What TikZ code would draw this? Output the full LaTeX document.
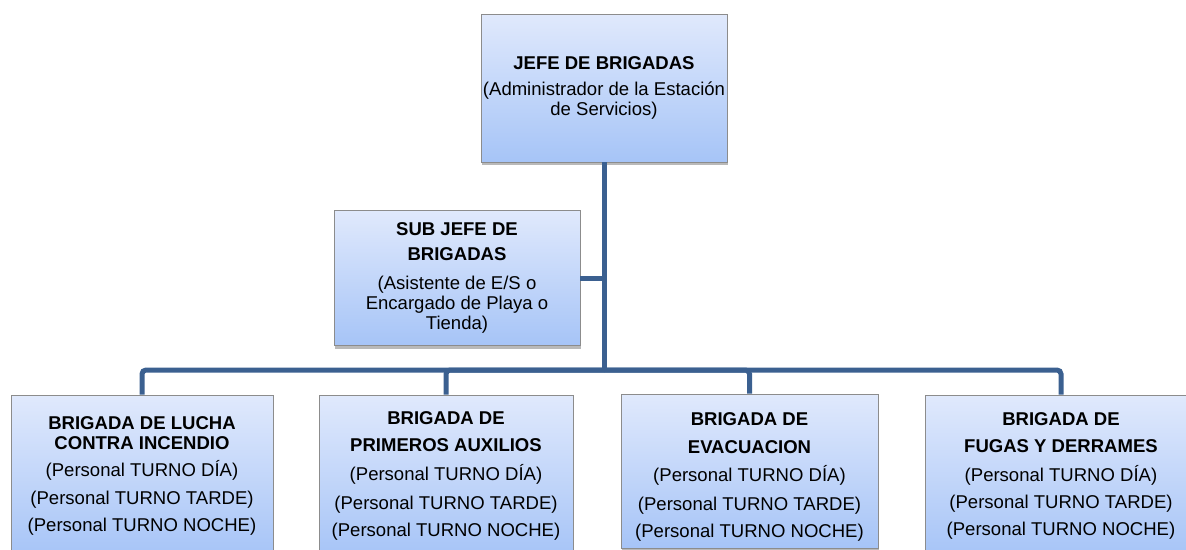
\documentclass[tikz,border=0pt]{standalone}
\usepackage{fontspec}
\setmainfont{Liberation Sans}
\usetikzlibrary{shadows}

\definecolor{boxtop}{RGB}{224,233,252}
\definecolor{boxbot}{RGB}{166,196,247}
\definecolor{boxline}{RGB}{140,140,140}
\definecolor{linkblue}{RGB}{59,96,144}

\begin{document}
\begin{tikzpicture}[
  x=0.75pt, y=-0.75pt,
  font=\fontsize{13.9}{15}\selectfont,
  unit/.style={draw=boxline,line width=0.6pt,top color=boxtop,bottom color=boxbot,align=center,inner xsep=1pt,
    drop shadow={shadow xshift=1pt,shadow yshift=-2.5pt,opacity=0.5,fill=black!55}},
  link/.style={draw=linkblue,line width=3.75pt,rounded corners=3pt}
]
\useasboundingbox (0,0) rectangle (1186,550);
\clip (0,0) rectangle (1186,550);

% jefes
\node[unit,minimum width=184.5pt,minimum height=111pt] (jefe) at (604,88)
  {\textbf{JEFE DE BRIGADAS}\\[5pt](Administrador de la Estación\\de Servicios)};
\node[unit,minimum width=184.5pt,minimum height=101.25pt] (sub) at (457,278)
  {\textbf{SUB JEFE DE}\\[3.75pt]\textbf{BRIGADAS}\\[6.75pt](Asistente de E/S o\\Encargado de Playa o\\Tienda)};

% brigadas
\node[unit,minimum width=196.5pt,minimum height=121.5pt] (lucha) at (142,476)
  {\textbf{BRIGADA DE LUCHA}\\\textbf{CONTRA INCENDIO}\\[5.5pt](Personal TURNO DÍA)\\[5.5pt](Personal TURNO TARDE)\\[5.5pt](Personal TURNO NOCHE)};
\node[unit,minimum width=190.5pt,minimum height=121.5pt] (auxilios) at (446,476)
  {\textbf{BRIGADA DE}\\[5.5pt]\textbf{PRIMEROS AUXILIOS}\\[6.5pt](Personal TURNO DÍA)\\[6.5pt](Personal TURNO TARDE)\\[5.5pt](Personal TURNO NOCHE)};
\node[unit,minimum width=192.75pt,minimum height=115.5pt] (evacua) at (749.5,471)
  {\rule{0pt}{19pt}\textbf{BRIGADA DE}\\[5.5pt]\textbf{EVACUACION}\\[6.5pt](Personal TURNO DÍA)\\[6.5pt](Personal TURNO TARDE)\\[5.5pt](Personal TURNO NOCHE)};
\node[unit,minimum width=204pt,minimum height=121.5pt] (fugas) at (1061,476)
  {\textbf{BRIGADA DE}\\[5.5pt]\textbf{FUGAS Y DERRAMES}\\[6.5pt](Personal TURNO DÍA)\\[5.5pt](Personal TURNO TARDE)\\[5.5pt](Personal TURNO NOCHE)};

% lineas
\coordinate (bar) at (604,370);
\draw[link] (jefe.south) -- (bar);
\draw[link] (sub.east) -- (sub.east -| bar);
\foreach \b in {lucha,auxilios,evacua,fugas}
  \draw[link] (\b.north) |- (bar);
\end{tikzpicture}
\end{document}
